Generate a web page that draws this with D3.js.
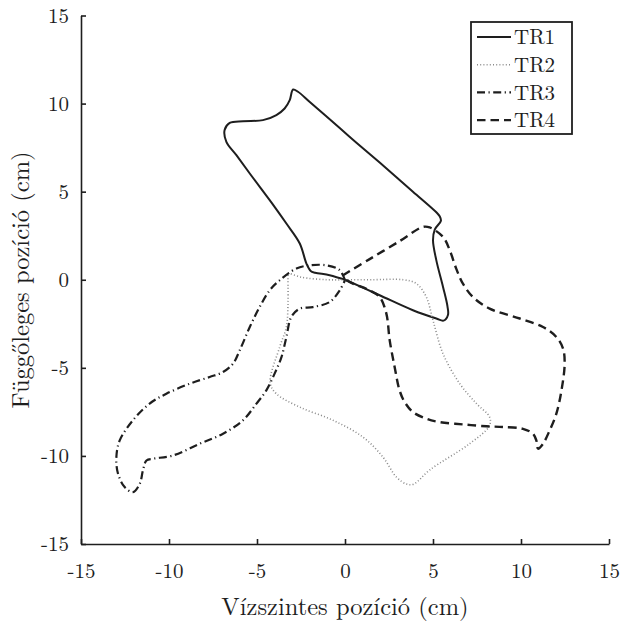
<!DOCTYPE html>
<html><head><meta charset="utf-8">
<script src="https://cdn.jsdelivr.net/npm/d3@7"></script>
<style>body{margin:0;background:#fff}svg{display:block}</style>
</head><body>
<svg id="c" width="622" height="622"></svg>
<script>
const seriesNames = ["TR1","TR2","TR3","TR4"];
const xTicks = [-15,-10,-5,0,5,10,15];
const yTicks = [-15,-10,-5,0,5,10,15];

const tr1x = [0.08,1.97,3.86,5.19,5.6,5.85,5.82,5.57,5.19,5.0,5.1,5.45,5.38,5.19,3.86,1.97,0.65,-0.3,-2.0,-2.67,-2.95,-3.14,-3.43,-3.9,-4.66,-5.8,-6.55,-6.84,-6.74,-6.17,-5.41,-4.0,-3.33,-2.57,-2.19,-1.95,-1.7,-0.87,0.08];
const tr1y = [-0.03,-0.88,-1.73,-2.2,-2.32,-2.0,-1.5,-0.41,1.1,2.24,2.85,3.35,3.6,3.83,5.0,6.65,7.78,8.61,10.09,10.67,10.8,10.2,9.72,9.35,9.06,9.0,8.9,8.5,7.83,7.07,6.03,4.14,3.19,2.06,0.92,0.5,0.4,0.26,-0.03];

const tr2x = [-3.24,-2.5,-1.0,0.1,1.5,3.3,4.06,4.62,5.0,5.57,6.52,7.47,8.22,8.2,7.09,4.81,3.9,3.5,2.92,2.16,1.02,-0.68,-2.57,-3.9,-4.25,-3.71,-3.33,-3.24,-3.24,-3.24];
const tr2y = [0.4,0.15,0.0,0.0,0.0,0.0,-0.22,-0.98,-2.3,-4.2,-5.9,-7.03,-7.8,-8.3,-9.3,-10.8,-11.6,-11.6,-11.2,-10.07,-8.93,-7.98,-7.23,-6.47,-5.85,-3.82,-2.68,-1.4,0.0,0.4];

const tr3x = [0.0,-0.3,-1.06,-2.0,-2.76,-3.71,-4.28,-4.85,-5.41,-5.98,-6.36,-6.93,-7.69,-8.82,-10.15,-11.1,-12.05,-12.8,-12.99,-12.9,-12.52,-12.05,-11.66,-11.48,-11.28,-10.9,-9.77,-8.26,-6.93,-5.8,-5.03,-4.47,-4.0,-3.61,-3.33,-3.05,-2.57,-1.82,-0.87,-0.3,0.0];
const tr3y = [-0.03,0.54,0.82,0.82,0.64,-0.03,-0.6,-1.55,-2.68,-4.0,-4.76,-5.24,-5.52,-5.9,-6.47,-7.03,-7.98,-9.12,-10.07,-11.0,-11.77,-12.06,-11.58,-10.82,-10.26,-10.16,-9.97,-9.31,-8.74,-7.98,-7.03,-6.28,-5.33,-4.39,-3.25,-2.11,-1.64,-1.55,-1.26,-0.6,-0.03];

const tr4x = [0.08,0.45,1.4,1.97,2.35,2.54,2.82,3.1,3.39,3.86,4.62,5.38,6.7,8.03,8.98,10.11,10.68,10.87,10.97,11.25,11.63,12.01,12.3,12.48,12.39,12.01,11.25,9.93,8.22,7.27,6.7,6.33,5.95,5.57,4.81,4.43,3.1,1.4,-0.11];
const tr4y = [-0.03,-0.22,-0.6,-0.98,-1.92,-3.44,-4.95,-6.28,-6.94,-7.51,-7.89,-8.08,-8.21,-8.32,-8.36,-8.46,-8.74,-9.12,-9.59,-9.31,-8.55,-7.6,-6.28,-4.76,-3.91,-3.25,-2.68,-2.2,-1.64,-0.98,-0.22,0.6,1.68,2.43,2.97,3.0,2.19,1.17,0.26];

const svg = d3.select("#c");
const x = d3.scaleLinear().domain([-15,15]).range([81,609]);
const y = d3.scaleLinear().domain([-15,15]).range([544,15.5]);
const FONT = "Latin Modern Roman";
const ink = "#1e1e1e";
const fmt = d => String(d);

const xa = svg.append("g").attr("transform","translate(0,544)")
  .call(d3.axisBottom(x).tickValues(xTicks).tickSizeInner(-5).tickSizeOuter(0).tickPadding(21).tickFormat(fmt));
const ya = svg.append("g").attr("transform","translate(81,0)")
  .call(d3.axisLeft(y).tickValues(yTicks).tickSizeInner(-5).tickSizeOuter(0).tickPadding(12).tickFormat(fmt));
[xa,ya].forEach(g=>{
  g.attr("font-family",FONT);
  g.select(".domain").attr("stroke",ink).attr("stroke-width",1.6);
  g.selectAll(".tick line").attr("stroke",ink).attr("stroke-width",1.6);
  g.selectAll(".tick text").attr("fill",ink).attr("font-family",FONT).style("font-family",FONT).style("font-size","21px");
});
xa.selectAll(".tick text").attr("dy","0.6em");
ya.selectAll(".tick text").attr("dy","0.33em");

svg.append("text").attr("x",345).attr("y",615).attr("text-anchor","middle")
  .attr("font-family",FONT).style("font-family",FONT).style("font-size","24.5px").attr("fill",ink).text("Vízszintes pozíció (cm)");
svg.append("text").attr("transform","translate(29,280) rotate(-90)").attr("text-anchor","middle")
  .attr("font-family",FONT).style("font-family",FONT).style("font-size","24.5px").attr("fill",ink).text("Függőleges pozíció (cm)");

const styles = [
  {stroke:ink, w:2, dash:null},
  {stroke:"#8a8a8a", w:1.6, dash:"1,2.2"},
  {stroke:ink, w:2.2, dash:"8,3.5,1.2,3.5"},
  {stroke:ink, w:2.4, dash:"8.5,5"}
];
const data = [[tr1x,tr1y],[tr2x,tr2y],[tr3x,tr3y],[tr4x,tr4y]];
const line = d3.line().x(d=>x(d[0])).y(d=>y(d[1])).curve(d3.curveCatmullRom.alpha(0.5));
data.forEach((s,i)=>{
  const pts = s[0].map((v,k)=>[v,s[1][k]]);
  svg.append("path").datum(pts).attr("d",line).attr("fill","none")
    .attr("stroke",styles[i].stroke).attr("stroke-width",styles[i].w)
    .attr("stroke-dasharray",styles[i].dash).attr("stroke-linejoin","round");
});

const lg = svg.append("g");
lg.append("rect").attr("x",471).attr("y",22).attr("width",101).attr("height",112)
  .attr("fill","#fff").attr("stroke",ink).attr("stroke-width",1.8);
seriesNames.forEach((n,i)=>{
  const yy = 37 + i*27.7;
  lg.append("line").attr("x1",477).attr("x2",511).attr("y1",yy).attr("y2",yy)
    .attr("stroke",styles[i].stroke).attr("stroke-width",styles[i].w).attr("stroke-dasharray",styles[i].dash);
  lg.append("text").attr("x",514).attr("y",yy).attr("dy","0.35em")
    .attr("font-family",FONT).style("font-family",FONT).style("font-size","21px").attr("fill",ink).text(n);
});
</script>
</body></html>
